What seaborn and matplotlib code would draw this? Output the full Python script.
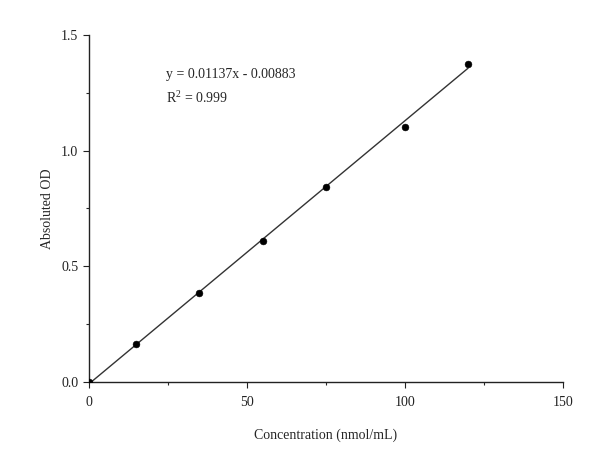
import matplotlib
matplotlib.use("Agg")
import matplotlib.pyplot as plt
import seaborn as sns
import numpy as np
import pandas as pd
from matplotlib.ticker import MultipleLocator

concentration = [0, 15, 35, 55, 75, 100, 120]
absorbance = [0.0, 0.164, 0.385, 0.61, 0.843, 1.10, 1.375]
slope = 0.01137
intercept = -0.00883
fit_x = [0, 120]

sns.set_theme(style="ticks")
plt.rcParams['font.family'] = ['Liberation Serif', 'DejaVu Serif']
plt.rcParams['mathtext.fontset'] = 'custom'
plt.rcParams['mathtext.rm'] = 'Liberation Serif'

df = pd.DataFrame({"x": concentration, "y": absorbance})
fit_df = pd.DataFrame({"x": fit_x, "y": [slope * v + intercept for v in fit_x]})

fig = plt.figure(figsize=(6, 4.58), dpi=100)
ax = fig.add_axes([0.148, 0.166, 0.79, 0.758])

sns.lineplot(data=fit_df, x="x", y="y", ax=ax, color="#333333", linewidth=1.0)
sns.scatterplot(data=df, x="x", y="y", ax=ax, color="black", s=24, marker="o", edgecolor="black", zorder=3)

ax.set_xlim(0, 150)
ax.set_ylim(0, 1.5)
ax.xaxis.set_major_locator(MultipleLocator(50))
ax.xaxis.set_minor_locator(MultipleLocator(25))
ax.yaxis.set_major_locator(MultipleLocator(0.5))
ax.yaxis.set_minor_locator(MultipleLocator(0.25))
ax.yaxis.set_major_formatter(matplotlib.ticker.FormatStrFormatter('%.1f'))
ax.tick_params(which="major", length=4, width=0.8, labelsize=10, colors="#222222", direction="out")
ax.tick_params(axis="x", which="major", pad=6)
ax.tick_params(which="minor", length=2.5, width=0.8, direction="out")
sns.despine(ax=ax)
for s in ["left", "bottom"]:
    ax.spines[s].set_linewidth(1.0)
    ax.spines[s].set_color("#222222")

ax.set_xlabel("Concentration (nmol/mL)", fontsize=10, labelpad=14)
ax.set_ylabel("Absoluted OD", fontsize=10, labelpad=5)

ax.text(24.5, 1.327, "y = 0.01137x - 0.00883", fontsize=10, va="center", ha="left")
ax.text(24.5, 1.228, "R$^{\\mathregular{2}}$ = 0.999", fontsize=10, va="center", ha="left")

fig.savefig("out.png", dpi=100)
